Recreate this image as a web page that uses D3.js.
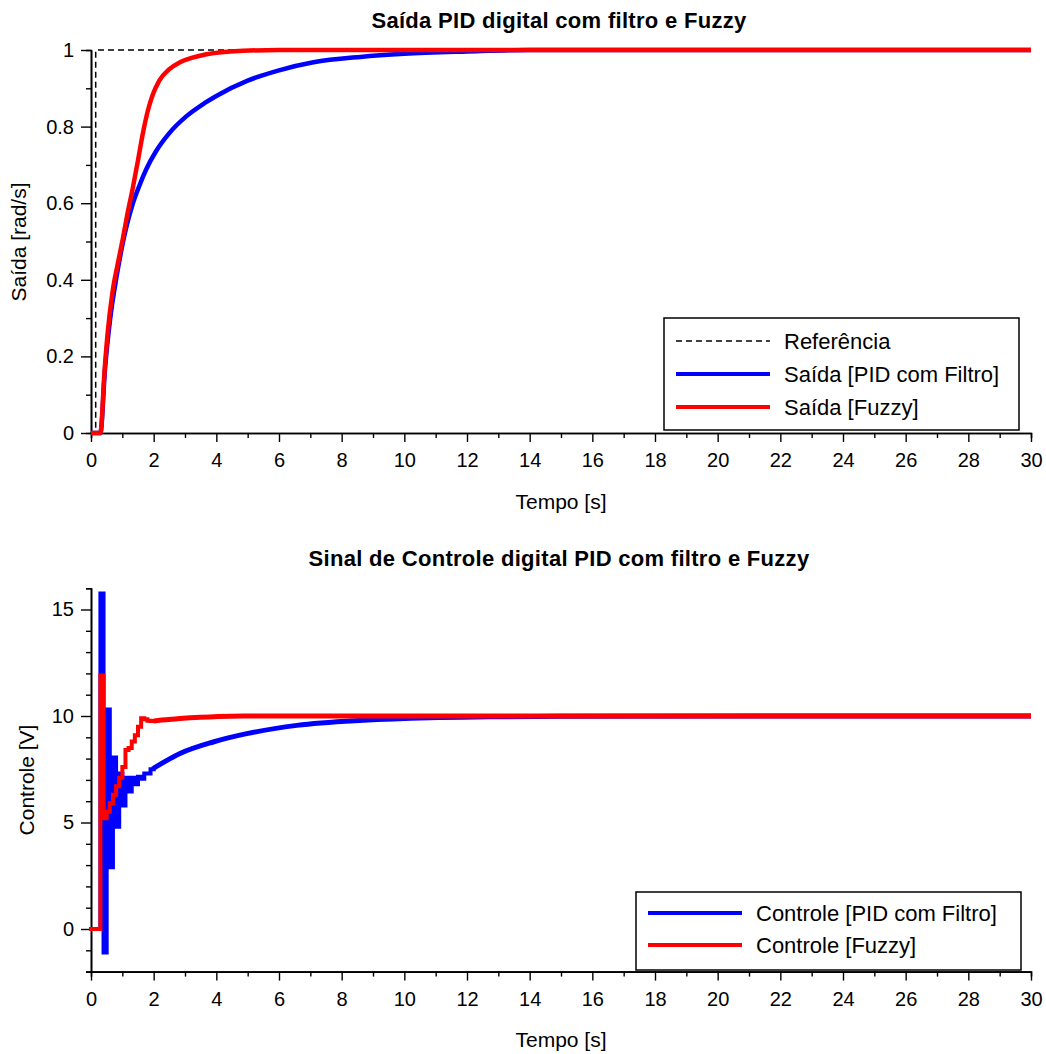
<!DOCTYPE html>
<html>
<head>
<meta charset="utf-8">
<script src="https://cdn.jsdelivr.net/npm/d3@7"></script>
<style>
  html, body { margin: 0; padding: 0; background: #fff; }
  svg { display: block; font-family: 'Liberation Sans', Arial, sans-serif; }
</style>
</head>
<body>
<svg id="chart" width="1046" height="1054"></svg>
<script>
// Reference step (dashed)
const refTime = [0, 0.15, 30];
const refValue = [0, 1, 1];

// Output of the PID with filter (blue)
const outPidTime = [0, 0.3, 0.45, 0.6, 0.82, 1.0, 1.15, 1.33, 1.54, 1.76, 2.07, 2.5, 3.03, 3.62, 4.0, 5.0, 6.0, 7.1, 8.6, 10, 12, 14, 30];
const outPidValue = [0, 0, 0.17, 0.29, 0.41, 0.49, 0.545, 0.598, 0.645, 0.688, 0.735, 0.783, 0.826, 0.861, 0.88, 0.92, 0.947, 0.968, 0.982, 0.99, 0.996, 1, 1];

// Output of the fuzzy controller (red)
const outFuzzyTime = [0, 0.3, 0.43, 0.53, 0.69, 0.85, 1.01, 1.17, 1.33, 1.5, 1.65, 1.81, 1.97, 2.18, 2.5, 2.84, 3.48, 4.44, 6, 30];
const outFuzzyValue = [0, 0, 0.16, 0.26, 0.37, 0.44, 0.505, 0.575, 0.638, 0.712, 0.78, 0.84, 0.883, 0.92, 0.95, 0.968, 0.985, 0.996, 1, 1];

// Control signals, sampled every 0.1 s for the first 2 s
const sampleTime = [0, 0.1, 0.2, 0.3, 0.4, 0.5, 0.6, 0.7, 0.8, 0.9, 1.0, 1.1, 1.2, 1.3, 1.4, 1.5, 1.6, 1.7, 1.8, 1.9, 2.0];
const ctrlPidSamples = [0, 0, 0, 15.75, -1.1, 10.3, 2.9, 8.05, 4.8, 7.3, 5.8, 7.1, 6.45, 7.1, 6.8, 7.15, 7.05, 7.3, 7.3, 7.5, 7.55];
const ctrlFuzzySamples = [0, 0, 0, 11.9, 5.2, 5.5, 5.9, 6.3, 6.7, 7.1, 7.6, 8.4, 8.5, 8.8, 9.1, 9.5, 9.9, 9.85, 9.78, 9.76, 9.77];

// Slow tails of the control signals after 2 s
const ctrlPidTailTime = [2.0, 2.84, 3.9, 4.97, 6.57, 8.69, 10.82, 12.74, 15, 30];
const ctrlPidTailValue = [7.55, 8.24, 8.78, 9.17, 9.56, 9.8, 9.92, 9.96, 9.99, 10];
const ctrlFuzzyTailTime = [2.0, 2.84, 3.5, 4.44, 6, 30];
const ctrlFuzzyTailValue = [9.77, 9.88, 9.94, 9.99, 10, 10];

// Ticks
const xTicks = d3.range(0, 31, 2);
const xMinor = d3.range(1, 30, 2);
const yTicksTop = [0, 0.2, 0.4, 0.6, 0.8, 1];
const yMinorTop = [0.1, 0.3, 0.5, 0.7, 0.9];
const yTicksBottom = [0, 5, 10, 15];
const yMinorBottom = d3.range(-2, 17, 1).filter((v) => v % 5 !== 0);

const BLUE = '#0000ff';
const RED = '#ff0000';
const svg = d3.select('#chart');
const zip = (ts, vs) => ts.map((t, i) => [t, vs[i]]);

// Draws the two axes of a panel, with major and minor ticks
function drawAxes(x, y, yTicks, yMinor, yFormat) {
  const [y0] = y.range();
  svg.append('g')
      .attr('transform', `translate(0,${y0})`)
      .call(d3.axisBottom(x).tickValues(xMinor).tickSize(5).tickFormat(''));
  const gx = svg.append('g')
      .attr('transform', `translate(0,${y0})`)
      .call(d3.axisBottom(x).tickValues(xTicks).tickSize(9).tickSizeOuter(0)
          .tickPadding(11).tickFormat(d3.format('d')));
  const x0 = x.range()[0];
  svg.append('g')
      .attr('transform', `translate(${x0},0)`)
      .call(d3.axisLeft(y).tickValues(yMinor).tickSize(5).tickFormat(''));
  const gy = svg.append('g')
      .attr('transform', `translate(${x0},0)`)
      .call(d3.axisLeft(y).tickValues(yTicks).tickSize(10).tickSizeOuter(0)
          .tickPadding(7).tickFormat(yFormat));
  svg.selectAll('.domain').attr('stroke-width', 1.6);
  svg.selectAll('.tick line').attr('stroke-width', 1.4);
  [gx, gy].forEach((g) => g.selectAll('text')
      .attr('font-size', 20).attr('font-family', null).attr('fill', '#000'));
}

function drawLegend(box, rows) {
  const g = svg.append('g');
  g.append('rect')
      .attr('x', box.x).attr('y', box.y)
      .attr('width', box.w).attr('height', box.h)
      .attr('fill', '#fff').attr('stroke', '#000').attr('stroke-width', 1.5);
  rows.forEach((r, i) => {
    const yy = box.y + box.first + i * box.step;
    g.append('line')
        .attr('x1', box.x + 12).attr('x2', box.x + 106)
        .attr('y1', yy).attr('y2', yy)
        .attr('stroke', r.color).attr('stroke-width', r.width)
        .attr('stroke-dasharray', r.dash || null);
    g.append('text')
        .attr('x', box.x + 120).attr('y', yy)
        .attr('dy', '0.35em')
        .attr('font-size', 22)
        .text(r.label);
  });
}

function title(text, x, y) {
  svg.append('text')
      .attr('x', x).attr('y', y)
      .attr('text-anchor', 'middle')
      .attr('font-size', 22).attr('font-weight', 'bold')
      .attr('letter-spacing', 0.3)
      .text(text);
}

function axisLabel(text, x, y, rotate) {
  svg.append('text')
      .attr('transform', `translate(${x},${y})` + (rotate ? ' rotate(-90)' : ''))
      .attr('text-anchor', 'middle')
      .attr('font-size', 21)
      .text(text);
}

// ---------- top panel: plant output ----------
const xTop = d3.scaleLinear().domain([0, 30]).range([91, 1031]);
const yTop = d3.scaleLinear().domain([0, 1]).range([433, 50]);

title('Saída PID digital com filtro e Fuzzy', 559, 28);
drawAxes(xTop, yTop, yTicksTop, yMinorTop, (d) => d3.format('~g')(d));
axisLabel('Tempo [s]', 561, 509, false);
axisLabel('Saída [rad/s]', 26, 242, true);

const lineTop = d3.line().x((d) => xTop(d[0])).y((d) => yTop(d[1]));

svg.append('path')
    .attr('d', lineTop.curve(d3.curveStepAfter)(zip(refTime, refValue)))
    .attr('fill', 'none').attr('stroke', '#000')
    .attr('stroke-width', 1.5).attr('stroke-dasharray', '6,4');
svg.append('path')
    .attr('d', lineTop.curve(d3.curveMonotoneX)(zip(outPidTime, outPidValue)))
    .attr('fill', 'none').attr('stroke', BLUE).attr('stroke-width', 4.5);
svg.append('path')
    .attr('d', lineTop.curve(d3.curveMonotoneX)(zip(outFuzzyTime, outFuzzyValue)))
    .attr('fill', 'none').attr('stroke', RED).attr('stroke-width', 4.5);

drawLegend({x: 664, y: 318, w: 355, h: 112, first: 23, step: 33}, [
  {label: 'Referência', color: '#000', width: 1.5, dash: '6,4'},
  {label: 'Saída [PID com Filtro]', color: BLUE, width: 4},
  {label: 'Saída [Fuzzy]', color: RED, width: 4},
]);

// ---------- bottom panel: control signal ----------
const xBot = d3.scaleLinear().domain([0, 30]).range([91, 1031]);
const yBot = d3.scaleLinear().domain([-2, 16]).range([971.6, 588.2]);

title('Sinal de Controle digital PID com filtro e Fuzzy', 559, 566);
drawAxes(xBot, yBot, yTicksBottom, yMinorBottom, d3.format('d'));
axisLabel('Tempo [s]', 561, 1047, false);
axisLabel('Controle [V]', 34, 780, true);

const lineBot = d3.line().x((d) => xBot(d[0])).y((d) => yBot(d[1]));

[[ctrlPidSamples, ctrlPidTailTime, ctrlPidTailValue, BLUE],
  [ctrlFuzzySamples, ctrlFuzzyTailTime, ctrlFuzzyTailValue, RED]]
    .forEach(([samples, tailT, tailV, color]) => {
      svg.append('path')
          .attr('d', lineBot.curve(d3.curveStepAfter)(zip(sampleTime, samples)))
          .attr('fill', 'none').attr('stroke', color).attr('stroke-width', 4)
          .attr('stroke-linejoin', 'miter').attr('stroke-linecap', 'square');
      svg.append('path')
          .attr('d', lineBot.curve(d3.curveMonotoneX)(zip(tailT, tailV)))
          .attr('fill', 'none').attr('stroke', color).attr('stroke-width', 5);
    });

drawLegend({x: 636, y: 892, w: 385, h: 78, first: 21, step: 32}, [
  {label: 'Controle [PID com Filtro]', color: BLUE, width: 4},
  {label: 'Controle [Fuzzy]', color: RED, width: 4},
]);
</script>
</body>
</html>
